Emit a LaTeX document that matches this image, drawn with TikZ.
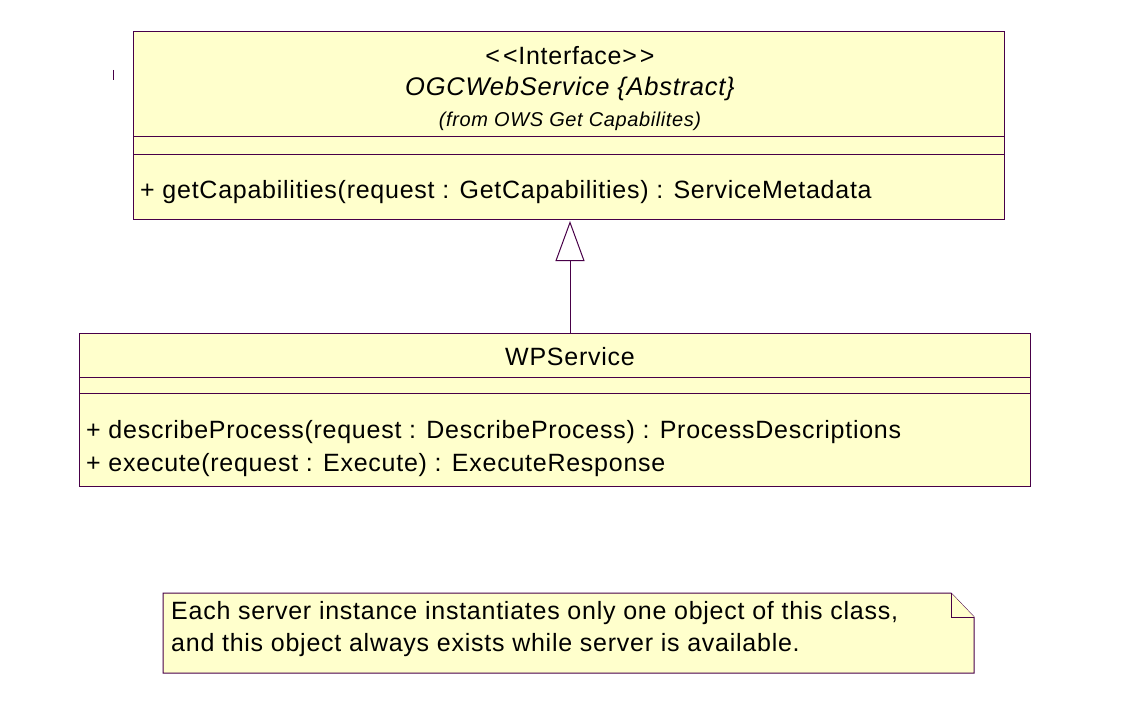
\documentclass[tikz,border=0pt]{standalone}
\usepackage{fontspec}
\setmainfont{Liberation Sans}[LetterSpace=3]
\usepackage{xcolor}
\usetikzlibrary{arrows.meta,positioning,calc}
\definecolor{umlfill}{RGB}{255,255,204}
\definecolor{umledge}{RGB}{72,0,72}
\tikzset{
    classbox/.style={
        rectangle, draw=umledge, line width=1pt, fill=umlfill,
        inner sep=0pt, outer sep=0pt, anchor=north west
    },
    member/.style={
        anchor=base west, inner sep=0pt, font=\fontsize{25}{30}\selectfont
    },
    classname/.style={
        anchor=base, inner sep=0pt, font=\fontsize{25}{30}\selectfont
    },
    compline/.style={draw=umledge, line width=1pt},
    realize/.style={-{Triangle[open, length=40pt, width=29pt]}, draw=umledge,
        line width=1pt, fill=white},
    notebox/.style={draw=umledge, line width=1pt, fill=umlfill}
}
\begin{document}
\begin{tikzpicture}[x=1pt, y=-1pt]
        \useasboundingbox (0,0) rectangle (1140,706);
        % stray tick left of the interface
        \draw[umledge, line width=0.8pt] (113,70) -- (113,80);
        % Interface class
        \node[classbox, minimum width=871pt, minimum height=187pt] (ogc) at (133,32) {};
        \draw[compline] (133,137) -- (1004,137);
        \draw[compline] (133,154) -- (1004,154);
        \node[classname] (ogcstereo) at (570,65) {<\hspace{3pt}<Interface>\hspace{3pt}>};
        \node[classname, font=\fontsize{25.5}{30}\selectfont\itshape] (ogcname) at (570,96) {OGCWebService \{Abstract\}};
        \node[classname, font=\fontsize{20}{24}\selectfont\itshape] (ogcfrom) at (570,127) {(from OWS Get Capabilites)};
        \node[member] (ogcop) at (140,198) {+ getCapabilities(request : GetCapabilities) : ServiceMetadata};
        % WPService class
        \node[classbox, minimum width=951pt, minimum height=153pt] (wps) at (79,333) {};
        \draw[compline] (79,377) -- (1030,377);
        \draw[compline] (79,393) -- (1030,393);
        \node[classname] (wpsname) at (570,365) {WPService};
        \node[member] (wpsop1) at (86,438) {+ describeProcess(request : DescribeProcess) : ProcessDescriptions};
        \node[member] (wpsop2) at (86,471) {+ execute(request : Execute) : ExecuteResponse};
        % realization
        \draw[realize] (wps.north -| 570,0) -- ([yshift=-2pt]ogc.south -| 570,0);
        % note
        \draw[notebox] (163,593) -- (951,593) -- (974,617) -- (974,673) -- (163,673) -- cycle;
        \draw[notebox] (951,593) -- (951,617) -- (974,617);
        \node[member] (note1) at (171,619) {Each server instance instantiates only one object of this class,};
        \node[member] (note2) at (171,651) {and this object always exists while server is available.};
    \end{tikzpicture}
\end{document}
